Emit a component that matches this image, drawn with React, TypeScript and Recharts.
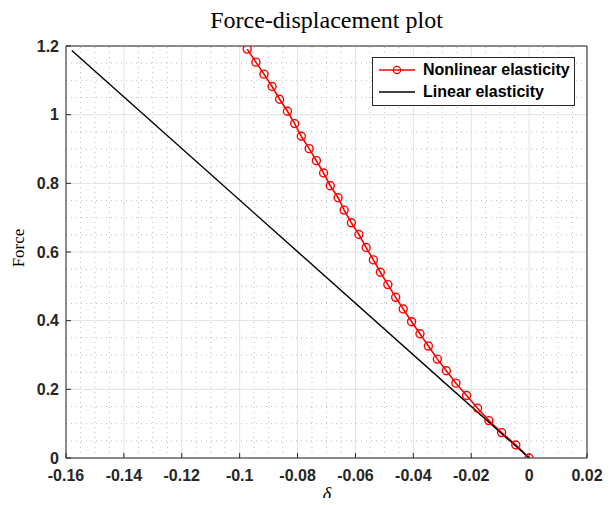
import { LineChart, Line, XAxis, YAxis, CartesianGrid, ReferenceLine } from "recharts";

// values (delta, force)
const nonlinearDelta = [
  0, -0.0046, -0.0095, -0.0139, -0.0178, -0.0216, -0.0253, -0.0286, -0.0317, -0.0348,
  -0.0377, -0.0406, -0.0435, -0.0461, -0.0488, -0.0514, -0.0538, -0.0563, -0.0588, -0.0614,
  -0.0639, -0.066, -0.0687, -0.071, -0.0735, -0.076, -0.0787, -0.081, -0.0835, -0.0862,
  -0.0888, -0.0916, -0.0944, -0.0974,
];
const nonlinearForce = [
  0, 0.038, 0.074, 0.109, 0.145, 0.182, 0.218, 0.254, 0.288, 0.326,
  0.362, 0.397, 0.434, 0.468, 0.505, 0.541, 0.577, 0.613, 0.651, 0.685,
  0.722, 0.758, 0.793, 0.83, 0.866, 0.901, 0.937, 0.974, 1.01, 1.045,
  1.082, 1.118, 1.153, 1.191,
];
const linearDelta = [0, -0.158];
const linearForce = [0, 1.187];

const xTicks = [-0.16, -0.14, -0.12, -0.1, -0.08, -0.06, -0.04, -0.02, 0, 0.02];
const yTicks = [0, 0.2, 0.4, 0.6, 0.8, 1, 1.2];

// minor grid every 0.005 in delta, 0.05 in force (major positions left out)
const xMinor = Array.from({ length: 37 }, (_, i) => +(-0.16 + i * 0.005).toFixed(3)).filter(
  (v) => !xTicks.includes(v)
);
const yMinor = Array.from({ length: 25 }, (_, i) => +(i * 0.05).toFixed(2)).filter(
  (v) => !yTicks.includes(v)
);

const nonlinearData = nonlinearDelta.map((d, i) => ({ delta: d, force: nonlinearForce[i] }));
const linearData = linearDelta.map((d, i) => ({ delta: d, force: linearForce[i] }));

const AXIS = "#262626";
const MINOR = "#bdbdbd";
const sans = "Liberation Sans, Arial, sans-serif";
const serif = "Liberation Serif, Times New Roman, serif";
const tickStyle = { fill: AXIS, fontSize: 16, fontWeight: 700, fontFamily: sans };

function LegendBox() {
  const row = { display: "flex", alignItems: "center", height: 22, whiteSpace: "nowrap" as const };
  return (
    <div
      style={{
        position: "absolute", left: 364, top: 49, width: 201, height: 46,
        border: `1px solid ${AXIS}`, background: "#fff", paddingTop: 1,
        fontFamily: sans, fontWeight: 700, fontSize: 16, color: "#000",
      }}
    >
      <div style={row}>
        <svg width={46} height={14} style={{ marginLeft: 4 }}>
          <line x1={2} y1={7} x2={38} y2={7} stroke="#ff0000" strokeWidth={1.5} />
          <circle cx={20} cy={7} r={3.6} stroke="#ff0000" strokeWidth={1.3} fill="none" />
        </svg>
        <span>Nonlinear elasticity</span>
      </div>
      <div style={row}>
        <svg width={46} height={14} style={{ marginLeft: 4 }}>
          <line x1={2} y1={7} x2={38} y2={7} stroke="#000" strokeWidth={1.5} />
        </svg>
        <span>Linear elasticity</span>
      </div>
    </div>
  );
}

export default function App() {
  return (
    <div style={{ position: "relative", width: 606, height: 490 }}>
      <LineChart width={606} height={490} margin={{ top: 37, right: 26, left: 8, bottom: 0 }}>
        <XAxis
          dataKey="delta" type="number" domain={[-0.16, 0.02]} ticks={xTicks}
          height={40} tickSize={-5} tickMargin={17} stroke={AXIS} tick={tickStyle}
          tickFormatter={(v) => String(v)} allowDataOverflow
        />
        <XAxis
          xAxisId="top" orientation="top" type="number" domain={[-0.16, 0.02]} ticks={xTicks}
          height={1} tickSize={-5} stroke={AXIS} tickFormatter={() => ""}
        />
        <YAxis
          type="number" domain={[0, 1.2]} ticks={yTicks} width={50} tickSize={-5} tickMargin={12}
          stroke={AXIS} tick={tickStyle} tickFormatter={(v) => String(v)} allowDataOverflow
        />
        <YAxis
          yAxisId="right" orientation="right" type="number" domain={[0, 1.2]} ticks={yTicks}
          width={1} tickSize={-5} stroke={AXIS} tickFormatter={() => ""}
        />
        <CartesianGrid stroke="#e2e2e2" />
        {xMinor.map((v) => (
          <ReferenceLine key={`x${v}`} x={v} stroke={MINOR} strokeDasharray="1 4" />
        ))}
        {yMinor.map((v) => (
          <ReferenceLine key={`y${v}`} y={v} stroke={MINOR} strokeDasharray="1 4" />
        ))}
        <Line
          data={nonlinearData} dataKey="force" stroke="#ff0000" strokeWidth={1.6}
          dot={{ r: 4, stroke: "#ff0000", strokeWidth: 1.4, fill: "none" }}
          isAnimationActive={false}
        />
        <Line
          data={linearData} dataKey="force" stroke="#000" strokeWidth={1.4} dot={false}
          isAnimationActive={false}
        />
      </LineChart>
      <div
        style={{
          position: "absolute", left: 118.5, width: 400, top: 0, textAlign: "center",
          fontFamily: serif, fontSize: 24, lineHeight: "24px", color: "#000",
        }}
      >
        Force-displacement plot
      </div>
      <div
        style={{
          position: "absolute", left: 9.5, top: 240, transform: "translate(-50%, -50%) rotate(-90deg)",
          fontFamily: serif, fontSize: 17, lineHeight: "17px", color: "#000", whiteSpace: "nowrap",
        }}
      >
        Force
      </div>
      <div
        style={{
          position: "absolute", left: 319, top: 486, transform: "translate(-50%, -50%)",
          fontFamily: serif, fontStyle: "italic", fontSize: 18, lineHeight: "18px", color: "#000",
        }}
      >
        δ
      </div>
      <LegendBox />
    </div>
  );
}
